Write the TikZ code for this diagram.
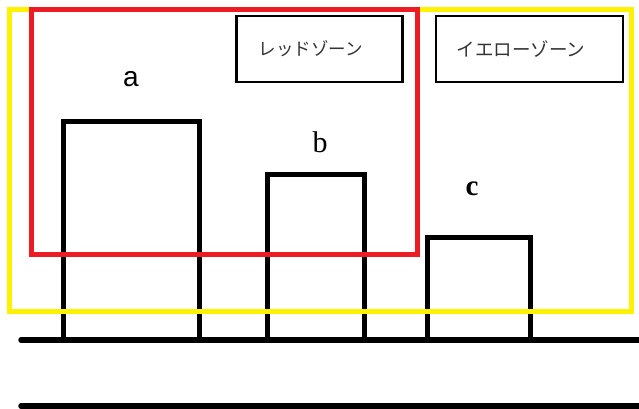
\documentclass[tikz,border=0pt]{standalone}
\usepackage{fontspec}
\setmainfont{Liberation Serif}
\newfontfamily\jpfont{Noto Sans CJK JP}
\newfontfamily\asans{Liberation Sans}
\definecolor{zred}{HTML}{ED1C24}
\definecolor{zyellow}{HTML}{FFF200}
\definecolor{jptext}{HTML}{333333}
\tikzset{
  bldg/.style={line width=5pt, draw=black},
  ground/.style={line width=5.5pt, draw=black, line cap=round},
  zone/.style={line width=5pt},
  tag/.style={draw=black, line width=2.2pt, minimum width=166pt, minimum height=66pt, inner sep=0pt},
  jp/.style={inner sep=0pt, text=jptext, font=\jpfont\fontsize{17.5}{17.5}\selectfont},
  lbl/.style={inner sep=0pt}
}
\begin{document}
\begin{tikzpicture}[x=1pt,y=-1pt]
\useasboundingbox (0,0) rectangle (639,409);
% ground lines
\coordinate (g1s) at (21,340);
\coordinate (g1e) at (645,340);
\coordinate (g2s) at (21,406);
\coordinate (g2e) at (645,406);
% buildings
\draw[bldg] (63,340) -- (63,121) -- (199.5,121) -- (199.5,340);
\draw[bldg] (267.5,340) -- (267.5,174) -- (364,174) -- (364,340);
\draw[bldg] (427.5,340) -- (427.5,237.5) -- (530,237.5) -- (530,340);
\draw[ground] (g1s) -- (g1e);
\draw[ground] (g2s) -- (g2e);
% zones
\draw[zone, draw=zyellow] (9.5,9.5) rectangle (631,311);
\draw[zone, draw=zred] (31,9.5) rectangle (417.5,254);
% tags
\node[tag] (redbox) at (319.5,49) {};
\node[jp] (red) at (311,49) {レッドゾーン};
\node[tag, minimum width=187pt] (yellowbox) at (529.5,49) {};
\node[jp, font=\jpfont\fontsize{18.5}{18.5}\selectfont] (yellow) at (521,49) {イエローゾーン};
% labels
\node[lbl, font=\asans\fontsize{28}{28}\selectfont] (a) at (131,79) {a};
\node[lbl, font=\fontsize{30}{30}\selectfont] (b) at (320,142) {b};
\node[lbl, font=\bfseries\fontsize{29}{29}\selectfont] (c) at (472,189) {c};
\end{tikzpicture}
\end{document}
